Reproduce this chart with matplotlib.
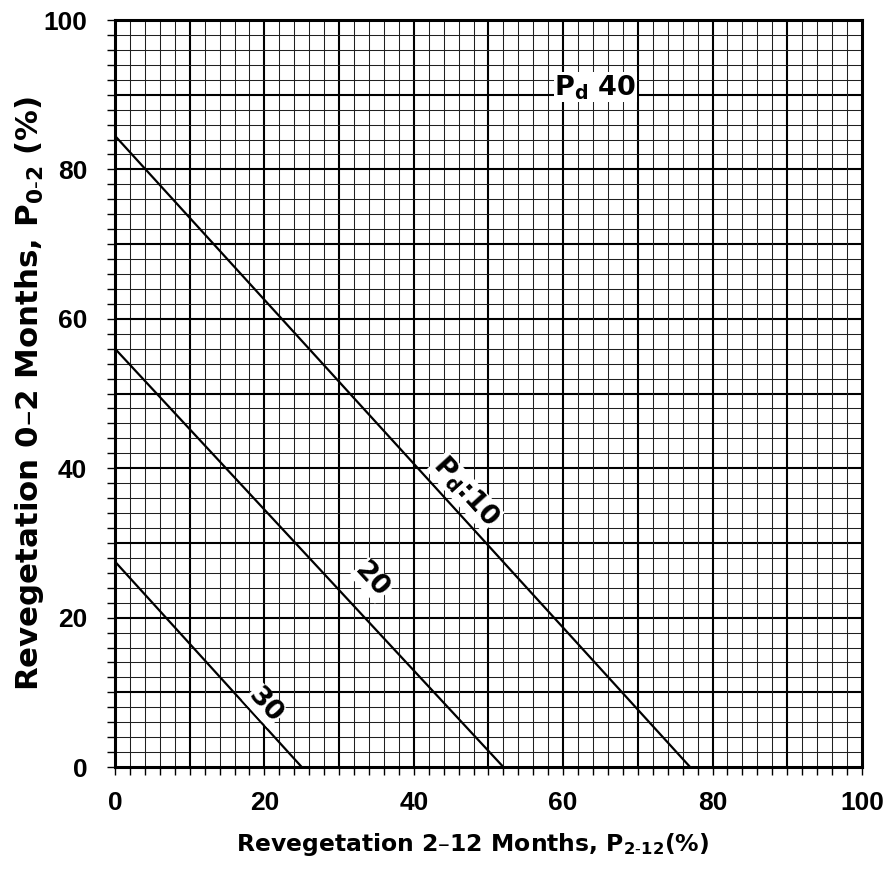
import matplotlib
matplotlib.use("Agg")
import matplotlib.pyplot as plt
import numpy as np

plt.rcParams["font.family"] = ["DejaVu Sans"]
plt.rcParams["mathtext.fontset"] = "dejavusans"
plt.rcParams["mathtext.default"] = "bf"

# constant-Pd lines
pd_levels = [10, 20, 30]
y_intercepts = [84.5, 56.0, 27.5]   # P0-2 at P2-12 = 0
x_intercepts = [77.0, 52.0, 25.0]   # P2-12 at P0-2 = 0

tick_values = [0, 20, 40, 60, 80, 100]

fig = plt.figure(figsize=(8.95, 8.75), dpi=100)
ax = fig.add_axes([0.1285, 0.1234, 0.8345, 0.8537])

ax.set_xlim(0, 100)
ax.set_ylim(0, 100)

# graph-paper grid: fine every 2, heavier every 10
for v in np.arange(2, 100, 2):
    heavy = v % 10 == 0
    lw = 1.5 if heavy else 0.75
    c = "black" if heavy else "#202020"
    ax.axvline(v, color=c, lw=lw, zorder=1)
    ax.axhline(v, color=c, lw=lw, zorder=1)

for level, y0, x0 in zip(pd_levels, y_intercepts, x_intercepts):
    ax.plot([0, x0], [y0, 0], color="black", lw=1.6, zorder=3)

ang = -47.7
lbl = dict(color="black", fontsize=19.5, fontweight="bold", rotation=ang,
           rotation_mode="anchor", ha="center", va="center", zorder=4,
           bbox=dict(facecolor="white", edgecolor="none", pad=0.3))
ax.text(46.9, 36.9, r"P$_{d}$:10", **lbl)
ax.text(34.4, 25.0, "20", **lbl)
ax.text(20.1, 8.3, "30", **lbl)
ax.text(58.8, 91.0, r"P$_{d}$ 40", fontsize=19.5, fontweight="bold",
        ha="left", va="center", zorder=4,
        bbox=dict(facecolor="white", edgecolor="none", pad=0.3))

ax.set_xticks(tick_values)
ax.set_yticks(tick_values)
ax.set_xticks(np.arange(0, 101, 2), minor=True)
ax.set_yticks(np.arange(0, 101, 2), minor=True)
ax.tick_params(which="both", direction="out", length=6, width=1.0, color="black")
ax.tick_params(axis="x", which="major", pad=11)
ax.tick_params(axis="y", which="major", pad=14)
for t in ax.get_xticklabels() + ax.get_yticklabels():
    t.set_fontfamily("Liberation Sans")
    t.set_fontsize(19)
    t.set_fontweight("bold")

for s in ax.spines.values():
    s.set_linewidth(2.2)

ax.set_xlabel(r"Revegetation 2–12 Months, P$_{2\text{-}12}$(%)", fontsize=16.9,
              fontweight="bold")
ax.set_ylabel(r"Revegetation 0–2 Months, P$_{0\text{-}2}$ (%)", fontsize=22.2,
              fontweight="bold")
ax.xaxis.set_label_coords(0.479, -0.086)
ax.yaxis.set_label_coords(-0.092, 0.5)

fig.savefig("out.png", dpi=100)
